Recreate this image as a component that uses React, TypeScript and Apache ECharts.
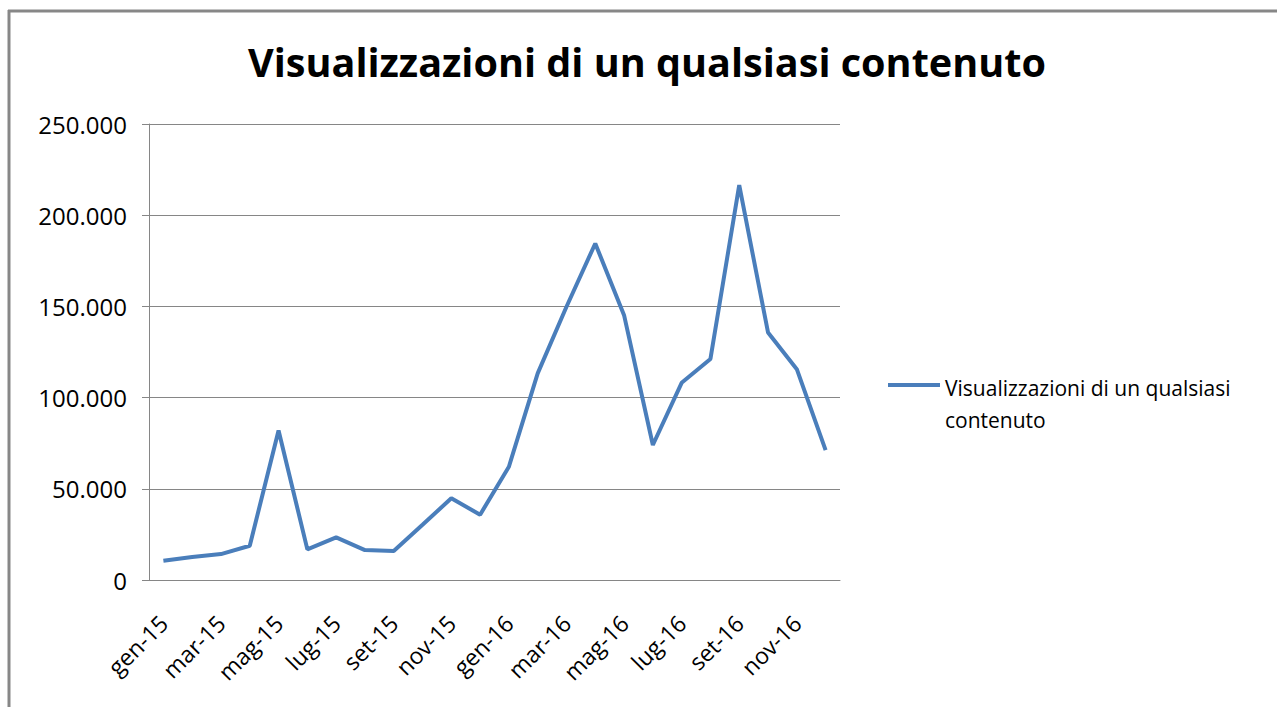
import React, { useEffect, useRef } from "react";
import * as echarts from "echarts";

const months: string[] = [
  "gen-15", "feb-15", "mar-15", "apr-15", "mag-15", "giu-15",
  "lug-15", "ago-15", "set-15", "ott-15", "nov-15", "dic-15",
  "gen-16", "feb-16", "mar-16", "apr-16", "mag-16", "giu-16",
  "lug-16", "ago-16", "set-16", "ott-16", "nov-16", "dic-16",
];

const views: number[] = [
  10600, 12600, 14200, 18800, 82000, 16800,
  23400, 16400, 15900, 30300, 44800, 35800,
  62100, 113300, 149800, 184500, 145200, 74000,
  108100, 121200, 216500, 135700, 115600, 71200,
];

const seriesName = "Visualizzazioni di un qualsiasi contenuto";
const titleText = "Visualizzazioni di un qualsiasi contenuto";
const legendLines: string[] = ["Visualizzazioni di un qualsiasi", "contenuto"];

const FONT = "'Open Sans', 'Noto Sans', sans-serif";
const LINE_COLOR = "#4a7ebb";
const AXIS_COLOR = "#868686";

function fmt(v: number): string {
  return String(Math.round(v)).replace(/\B(?=(\d{3})+(?!\d))/g, ".");
}

export default function App() {
  const ref = useRef<HTMLDivElement>(null);
  useEffect(() => {
    if (!ref.current) return;
    const chart = echarts.init(ref.current, undefined, { renderer: "svg" });
    chart.setOption({
      animation: false,
      backgroundColor: "#ffffff",
      title: {
        text: titleText,
        left: 248,
        top: 38,
        padding: 0,
        textStyle: {
          fontFamily: FONT,
          fontWeight: "bold",
          fontSize: 39.6,
          lineHeight: 48,
          color: "#000000",
        },
      },
      grid: { left: 149, right: 437, top: 124, bottom: 127, containLabel: false },
      xAxis: {
        type: "category",
        data: months,
        boundaryGap: true,
        axisLine: { lineStyle: { color: AXIS_COLOR, width: 1 } },
        axisTick: { interval: 1, length: 8, lineStyle: { color: AXIS_COLOR } },
        axisLabel: {
          interval: 1,
          rotate: 45,
          margin: 39,
          fontFamily: FONT,
          fontSize: 23,
          color: "#000000",
        },
        splitLine: { show: false },
      },
      yAxis: {
        type: "value",
        min: 0,
        max: 250000,
        interval: 50000,
        axisLine: { show: true, lineStyle: { color: AXIS_COLOR, width: 1 } },
        axisTick: { show: true, length: 7, lineStyle: { color: AXIS_COLOR } },
        splitLine: { show: true, lineStyle: { color: AXIS_COLOR, width: 1 } },
        axisLabel: {
          margin: 22,
          fontFamily: FONT,
          fontSize: 24,
          color: "#000000",
          formatter: (v: number) => fmt(v),
        },
      },
      series: [
        {
          name: seriesName,
          type: "line",
          data: views,
          symbol: "none",
          lineStyle: { color: LINE_COLOR, width: 4 },
          itemStyle: { color: LINE_COLOR },
        },
      ],
      graphic: [
        {
          type: "line",
          shape: { x1: 9, y1: 10, x2: 9, y2: 707 },
          style: { stroke: "#878787", lineWidth: 3 },
          silent: true,
        },
        {
          type: "line",
          shape: { x1: 8, y1: 11, x2: 1277, y2: 11 },
          style: { stroke: "#878787", lineWidth: 3 },
          silent: true,
        },
        {
          type: "line",
          shape: { x1: 888, y1: 385, x2: 940, y2: 385 },
          style: { stroke: LINE_COLOR, lineWidth: 4 },
          silent: true,
        },
        {
          type: "text",
          x: 945,
          y: 372,
          silent: true,
          style: {
            text: legendLines.join("\n"),
            fontFamily: FONT,
            fontSize: 21,
            lineHeight: 32,
            fill: "#000000",
            textAlign: "left",
            textVerticalAlign: "top",
          },
        },
      ],
    });
    return () => chart.dispose();
  }, []);
  return (
    <div
      ref={ref}
      style={{ position: "absolute", left: 0, top: 0, width: 1277, height: 707 }}
    />
  );
}
